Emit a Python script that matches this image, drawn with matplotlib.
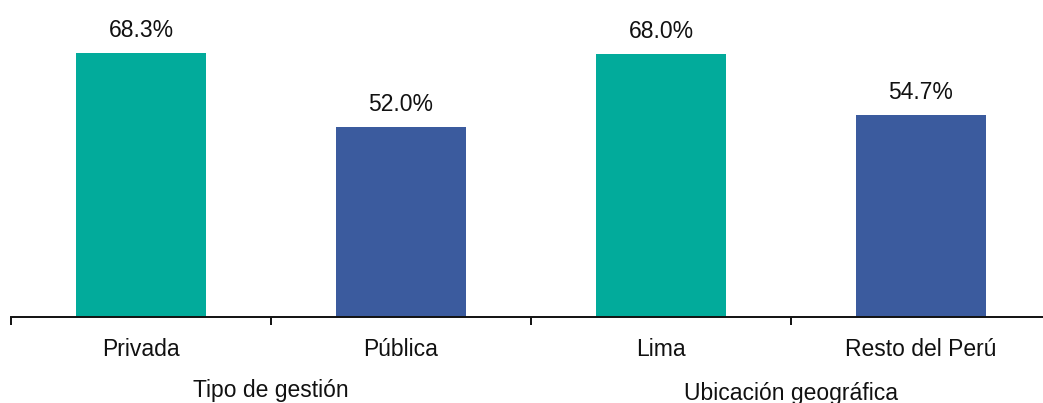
import matplotlib
matplotlib.use("Agg")
import matplotlib.pyplot as plt
import matplotlib.transforms as mtransforms

categories = ["Privada", "Pública", "Lima", "Resto del Perú"]
values = [68.3, 52.0, 68.0, 54.7]
groups = ["Tipo de gestión", "Ubicación geográfica"]
group_centers = [0.5, 2.5]
group_offsets = [-0.195, -0.205]

TEAL = "#02AB9B"
BLUE = "#3B5B9E"
bar_colors = [TEAL, BLUE, TEAL, BLUE]

plt.rcParams["font.family"] = ["Liberation Sans", "DejaVu Sans"]
FS = 16.5

fig = plt.figure(figsize=(10.43, 4.03), dpi=100)
# axis runs off the right edge of the figure, the way the category grid ends
ax = fig.add_axes([11 / 1043, 86 / 403, 1040 / 1043, 317 / 403])

x = list(range(len(categories)))
bars = ax.bar(x, values, width=0.5, color=bar_colors, zorder=2)

for rect, v in zip(bars, values):
    ax.annotate(f"{v:.1f}%", (rect.get_x() + rect.get_width() / 2, v),
                xytext=(0, 11.5), textcoords="offset points",
                ha="center", va="baseline", fontsize=FS, color="#111111")

ax.set_xlim(-0.5, 3.5)
ax.set_ylim(10, 80)

for side in ["top", "right", "left"]:
    ax.spines[side].set_visible(False)
ax.spines["bottom"].set_linewidth(1.4)
ax.spines["bottom"].set_color("#111111")
ax.set_yticks([])

# category names centred, tick marks on the boundaries between categories
ax.set_xticks(x)
ax.set_xticklabels(categories, fontsize=FS, color="#111111")
ax.tick_params(axis="x", which="major", length=0, pad=15)
ax.set_xticks([-0.5, 0.5, 1.5, 2.5, 3.5], minor=True)
ax.tick_params(axis="x", which="minor", length=6, width=1.4, direction="out",
               color="#111111")

trans = mtransforms.blended_transform_factory(ax.transData, ax.transAxes)
for name, cx, yo in zip(groups, group_centers, group_offsets):
    ax.text(cx, yo, name, transform=trans, ha="center", va="top",
            fontsize=FS, color="#111111")

fig.savefig("out.png", dpi=100)
